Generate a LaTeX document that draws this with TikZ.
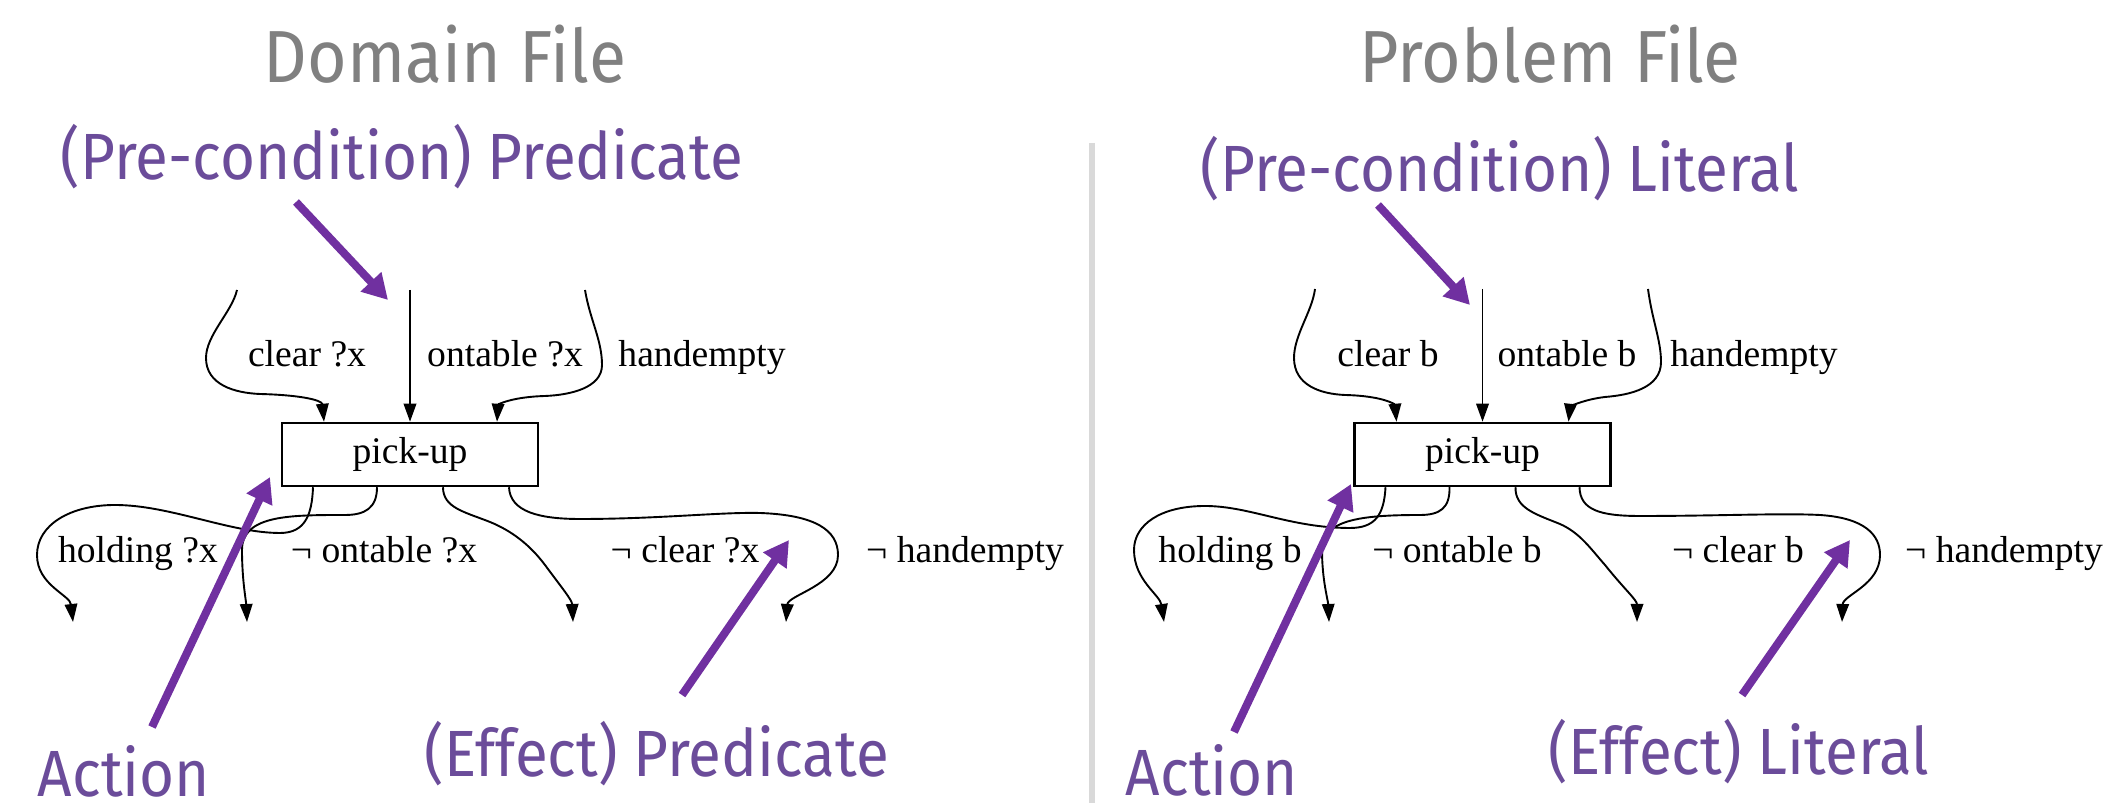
\documentclass[tikz,border=0pt]{standalone}
\usepackage{fontspec}
\setmainfont{Liberation Serif}
\newfontfamily\calloutfont{Fira Sans}[FakeStretch=0.92]
\usepackage{tikz}
\usetikzlibrary{positioning,arrows.meta,calc}
\definecolor{m_grey}{HTML}{808080}
\definecolor{m_purple}{HTML}{6B4C9A}
\definecolor{m_arrow}{HTML}{7030A0}
\definecolor{m_rule}{HTML}{D9D9D9}

\begin{document}
\begin{tikzpicture}[
        x=0.1mm, y=-0.1mm,
        font=\fontsize{10.7}{12}\selectfont,
        filetitle/.style={anchor=base, inner sep=0pt, text=m_grey, font=\calloutfont\fontsize{21}{24}\selectfont},
        calltext/.style={anchor=base, inner sep=0pt, text=m_purple, font=\calloutfont\fontsize{18.6}{22}\selectfont},
        callout/.style={m_arrow, line width=0.8mm, -{Triangle[length=2.5mm, width=2.7mm]}},
        action/.style={draw, line width=0.25mm, minimum width=25.6mm, minimum height=6.3mm, inner sep=0pt},
        cond/.style={anchor=base, inner sep=0pt},
        link/.style={line width=0.19mm, -{Triangle[length=1.8mm, width=1.25mm]}}
    ]
    \useasboundingbox (0,0) rectangle (2103,803);

    % titles and divider
    \node[filetitle] (dtitle) at (445,83) {Domain File};
    \node[filetitle] (ptitle) at (1550,83) {Problem File};
    \coordinate (rtop) at (1092,143);
    \coordinate (rbot) at (1092,803);
    \draw[m_rule, line width=0.6mm] (rtop) -- (rbot);

    % domain file
    \node[action] (dpick) at (410,454.5) {pick-up};

    \coordinate (dclr) at (237,290);
    \coordinate (dont) at (410,290);
    \coordinate (dhnd) at (585,290);
    \draw[link] (dclr) .. controls (232,312) and (206,335) .. (206,358)
        .. controls (206,385) and (235,393) .. (260,394)
        .. controls (300,395) and (322,400) .. ($(dpick.north)+(-86,0)$);
    \draw[link] (dont) -- (dpick);
    \draw[link] (dhnd) .. controls (590,320) and (602,340) .. (602,365)
        .. controls (602,388) and (570,395) .. (545,396)
        .. controls (510,397) and (498,405) .. ($(dpick.north)+(87,0)$);
    \node[cond] (dlclr) at (307,367) {clear ?x};
    \node[cond] (dlont) at (505,367) {ontable ?x};
    \node[cond] (dlhnd) at (702,367) {handempty};

    \coordinate (dhold) at (73,622);
    \coordinate (dnont) at (247,622);
    \coordinate (dnclr) at (573,622);
    \coordinate (dnhnd) at (786,622);
    \draw[link] ($(dpick.south)+(-97,0)$) .. controls (312,515) and (305,533) .. (280,533)
        .. controls (230,533) and (170,505) .. (115,505)
        .. controls (70,505) and (37,525) .. (37,555)
        .. controls (37,585) and (70,595) .. (dhold);
    \draw[link] ($(dpick.south)+(-33,0)$) .. controls (377,508) and (365,515) .. (345,515)
        .. controls (290,515) and (242,515) .. (242,550)
        .. controls (242,580) and (246,600) .. (dnont);
    \draw[link] ($(dpick.south)+(33,0)$) .. controls (443,508) and (465,512) .. (490,522)
        .. controls (512,531) and (530,545) .. (545,565)
        .. controls (562,588) and (572,600) .. (dnclr);
    \draw[link] ($(dpick.south)+(99,0)$) .. controls (510,512) and (540,519) .. (580,519)
        .. controls (660,519) and (720,512) .. (760,513)
        .. controls (815,515) and (838,530) .. (838,555)
        .. controls (838,585) and (788,595) .. (dnhnd);
    \node[cond] (dlhold) at (138,563) {holding ?x};
    \node[cond] (dlnont) at (384,563) {¬ ontable ?x};
    \node[cond] (dlnclr) at (685,563) {¬ clear ?x};
    \node[cond] (dlnhnd) at (965,563) {¬ handempty};

    % problem file
    \node[action] (ppick) at (1482.5,454.5) {pick-up};

    \coordinate (pclr) at (1315,289);
    \coordinate (pont) at (1482.5,289);
    \coordinate (phnd) at (1648,289);
    \draw[link] (pclr) .. controls (1312,312) and (1294,335) .. (1294,358)
        .. controls (1294,385) and (1320,394) .. (1345,395)
        .. controls (1385,396) and (1395,405) .. ($(ppick.north)+(-86,0)$);
    \draw[link] (pont) -- (ppick);
    \draw[link] (phnd) .. controls (1652,320) and (1661,340) .. (1661,362)
        .. controls (1661,388) and (1630,395) .. (1605,397)
        .. controls (1580,400) and (1570,408) .. ($(ppick.north)+(86,0)$);
    \node[cond] (plclr) at (1388,367) {clear b};
    \node[cond] (plont) at (1567,367) {ontable b};
    \node[cond] (plhnd) at (1754,367) {handempty};

    \coordinate (phold) at (1164,622);
    \coordinate (pnont) at (1329,622);
    \coordinate (pnclr) at (1637,622);
    \coordinate (pnhnd) at (1842,622);
    \draw[link] ($(ppick.south)+(-97,0)$) .. controls (1384,515) and (1375,528) .. (1350,528)
        .. controls (1290,528) and (1250,506) .. (1205,506)
        .. controls (1160,506) and (1134,525) .. (1134,550)
        .. controls (1134,580) and (1160,595) .. (phold);
    \draw[link] ($(ppick.south)+(-33,0)$) .. controls (1450,508) and (1440,515) .. (1420,515)
        .. controls (1360,515) and (1322,520) .. (1322,550)
        .. controls (1322,580) and (1328,600) .. (pnont);
    \draw[link] ($(ppick.south)+(33,0)$) .. controls (1515,508) and (1535,514) .. (1560,524)
        .. controls (1580,533) and (1590,548) .. (1605,565)
        .. controls (1625,590) and (1637,600) .. (pnclr);
    \draw[link] ($(ppick.south)+(97,0)$) .. controls (1580,510) and (1600,516) .. (1640,516)
        .. controls (1720,516) and (1780,513) .. (1820,515)
        .. controls (1865,518) and (1880,535) .. (1880,555)
        .. controls (1880,585) and (1843,595) .. (pnhnd);
    \node[cond] (plhold) at (1230,563) {holding b};
    \node[cond] (plnont) at (1457,563) {¬ ontable b};
    \node[cond] (plnclr) at (1738,563) {¬ clear b};
    \node[cond] (plnhnd) at (2004,563) {¬ handempty};

    % callouts
    \node[calltext] (dpre) at (402,180) {(Pre-condition) Predicate};
    \node[calltext] (dact) at (124,797) {Action};
    \node[calltext] (deff) at (657,777) {(Effect) Predicate};
    \node[calltext] (ppre) at (1500,192) {(Pre-condition) Literal};
    \node[calltext] (pact) at (1212,796) {Action};
    \node[calltext] (peff) at (1739,775) {(Effect) Literal};

    \coordinate (dpreA) at (296,202);  \coordinate (dpreB) at (388,300);
    \coordinate (dactA) at (152,727);  \coordinate (dactB) at (270,477);
    \coordinate (deffA) at (682,695);  \coordinate (deffB) at (789,540);
    \coordinate (ppreA) at (1378,205); \coordinate (ppreB) at (1470,305);
    \coordinate (pactA) at (1234,732); \coordinate (pactB) at (1351,484);
    \coordinate (peffA) at (1742,695); \coordinate (peffB) at (1850,540);
    \draw[callout] (dpreA) -- (dpreB);
    \draw[callout] (dactA) -- (dactB);
    \draw[callout] (deffA) -- (deffB);
    \draw[callout] (ppreA) -- (ppreB);
    \draw[callout] (pactA) -- (pactB);
    \draw[callout] (peffA) -- (peffB);
\end{tikzpicture}
\end{document}
